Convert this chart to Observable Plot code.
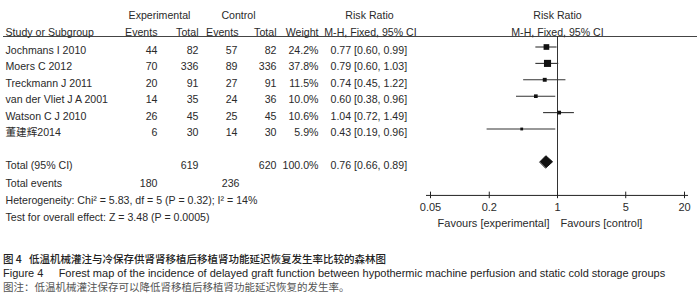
<!DOCTYPE html>
<html>
<head>
<meta charset="utf-8">
<script src="https://cdn.jsdelivr.net/npm/d3@7"></script>
<script src="https://cdn.jsdelivr.net/npm/@observablehq/plot@0.6"></script>
<style>
  html, body { margin: 0; padding: 0; background: #fff; }
  body { width: 700px; height: 298px; overflow: hidden; font-family: "Liberation Sans", Arial, "Noto Sans CJK SC", sans-serif; }
  #chart svg { display: block; }
  .cap { padding: 16px 0 0 3px; font-size: 10.5px; line-height: 14px; color: #333; }
  .cap .l1 { font-family: "Noto Sans CJK SC", sans-serif; color: #222; font-weight: 500; }
  .cap .l2 { color: #222; font-size: 11px; }
  .cap .l3 { font-family: "Noto Sans CJK SC", sans-serif; color: #555; }
</style>
</head>
<body>
<div id="chart"></div>
<div class="cap">
  <div class="l1">图 4&nbsp;&nbsp;&nbsp;低温机械灌注与冷保存供肾肾移植后移植肾功能延迟恢复发生率比较的森林图</div>
  <div class="l2">Figure 4&nbsp;&nbsp;&nbsp;&nbsp;&nbsp;Forest map of the incidence of delayed graft function between hypothermic machine perfusion and static cold storage groups</div>
  <div class="l3">图注：低温机械灌注保存可以降低肾移植后移植肾功能延迟恢复的发生率。</div>
</div>
<script>
// ---- data ----
const studies   = ["Jochmans I 2010", "Moers C 2012", "Treckmann J 2011", "van der Vliet J A 2001", "Watson C J 2010", "董建辉2014"];
const expEvents = [44, 70, 20, 14, 26, 6];
const expTotal  = [82, 336, 91, 35, 45, 30];
const ctlEvents = [57, 89, 27, 24, 25, 14];
const ctlTotal  = [82, 336, 91, 36, 45, 30];
const weights   = [24.2, 37.8, 11.5, 10.0, 10.6, 5.9];
const rr        = [0.77, 0.79, 0.74, 0.60, 1.04, 0.43];
const rrLow     = [0.60, 0.60, 0.45, 0.38, 0.72, 0.19];
const rrHigh    = [0.99, 1.03, 1.22, 0.96, 1.49, 0.96];

const totalExp = 619, totalCtl = 620, totalWeight = 100.0;
const totalRR = 0.76, totalLow = 0.66, totalHigh = 0.89;
const totalEventsExp = 180, totalEventsCtl = 236;
const heterogeneity = "Heterogeneity: Chi\u00b2 = 5.83, df = 5 (P = 0.32); I\u00b2 = 14%";
const overallEffect = "Test for overall effect: Z = 3.48 (P = 0.0005)";
const axisTicks = [0.05, 0.2, 1, 5, 20];
const favourLeft = "Favours [experimental]";
const favourRight = "Favours [control]";

// ---- layout rows (row units) ----
const rows = studies.map((name, i) => ({
  name, row: i,
  ee: expEvents[i], et: expTotal[i], ce: ctlEvents[i], ct: ctlTotal[i],
  w: weights[i], rr: rr[i], lo: rrLow[i], hi: rrHigh[i]
}));
const totalRow = studies.length + 1;
const eventsRow = totalRow + 1.1;
const hetRow = totalRow + 2.15;
const testRow = totalRow + 3.2;
const axisRow = 9.05;
const head1 = -2.12, head2 = -1.12, headLine = -0.64;

const fmtRR = (e, l, h) => `${e.toFixed(2)} [${l.toFixed(2)}, ${h.toFixed(2)}]`;
const FS = 10.6, TC = "#2a2a2a", DY = 3.5;

const T = (data, opts) => Plot.text(data, {frameAnchor: "left", fontSize: FS, fill: TC, dy: DY, ...opts});

const diamond = [
  {x: totalLow, y: totalRow},
  {x: totalRR, y: totalRow - 0.37},
  {x: totalHigh, y: totalRow},
  {x: totalRR, y: totalRow + 0.37}
];

const totals = [{row: totalRow}];

const plot = Plot.plot({
  width: 700,
  height: 236,
  marginLeft: 0,
  marginRight: 3,
  marginTop: 0,
  marginBottom: 41,
  style: {fontFamily: '"Liberation Sans", Arial, "Noto Sans CJK SC", sans-serif', background: "#fff"},
  x: {type: "log", domain: [0.05, 20], range: [430, 684], axis: null},
  y: {type: "linear", domain: [0, 10], range: [46.5, 210.5], axis: null},
  r: {type: "sqrt", domain: [0, d3.max(weights)], range: [0, 4]},
  marks: [
    // header line and reference line
    Plot.ruleY([headLine], {stroke: "#444", strokeWidth: 1, insetLeft: 3}),
    Plot.ruleX([1], {y1: headLine, y2: axisRow, stroke: "#333", strokeWidth: 1}),
    // axis
    Plot.ruleY([axisRow], {x1: 0.05, x2: 20, insetLeft: -4, insetRight: -4, stroke: "#222"}),
    Plot.ruleX(axisTicks, {x: d => d, y1: axisRow - 0.2, y2: axisRow + 0.2, stroke: "#222"}),
    Plot.text(axisTicks, {x: d => d, y: axisRow, dy: 12.5, text: d => String(d), fontSize: 11, fill: TC}),
    Plot.text([favourLeft], {x: 1, y: axisRow, dy: 28.5, dx: -8, textAnchor: "end", fontSize: 11, fill: TC}),
    Plot.text([favourRight], {x: 1, y: axisRow, dy: 28.5, dx: 3, textAnchor: "start", fontSize: 11, fill: TC}),
    // CIs and squares
    Plot.ruleY(rows, {y: "row", x1: "lo", x2: "hi", stroke: "#333", strokeWidth: 1.1}),
    Plot.dot(rows, {x: "rr", y: "row", r: "w", symbol: "square", fill: "#111", stroke: null}),
    // diamond
    Plot.line(diamond, {x: "x", y: "y", curve: "linear-closed", fill: "#111", stroke: "#111", strokeWidth: 1}),
    // headers
    T(["Experimental"], {y: head1, dx: 159, textAnchor: "middle"}),
    T(["Control"], {y: head1, dx: 238, textAnchor: "middle"}),
    T(["Risk Ratio"], {y: head1, dx: 369, textAnchor: "middle"}),
    Plot.text(["Risk Ratio"], {x: 1, y: head1, dy: DY, textAnchor: "middle", fontSize: FS, fill: TC}),
    T(["Study or Subgroup"], {y: head2, dx: 5, textAnchor: "start"}),
    T(["Events"], {y: head2, dx: 157, textAnchor: "end"}),
    T(["Total"], {y: head2, dx: 198, textAnchor: "end"}),
    T(["Events"], {y: head2, dx: 238, textAnchor: "end"}),
    T(["Total"], {y: head2, dx: 276, textAnchor: "end"}),
    T(["Weight"], {y: head2, dx: 318, textAnchor: "end"}),
    T(["M-H, Fixed, 95% CI"], {y: head2, dx: 370, textAnchor: "middle"}),
    Plot.text(["M-H, Fixed, 95% CI"], {x: 1, y: head2, dy: DY, textAnchor: "middle", fontSize: FS, fill: TC}),
    // study rows
    T(rows, {y: "row", text: "name", dx: 5, textAnchor: "start"}),
    T(rows, {y: "row", text: "ee", dx: 157, textAnchor: "end"}),
    T(rows, {y: "row", text: "et", dx: 198, textAnchor: "end"}),
    T(rows, {y: "row", text: "ce", dx: 237, textAnchor: "end"}),
    T(rows, {y: "row", text: "ct", dx: 276, textAnchor: "end"}),
    T(rows, {y: "row", text: d => d.w.toFixed(1) + "%", dx: 318, textAnchor: "end"}),
    T(rows, {y: "row", text: d => fmtRR(d.rr, d.lo, d.hi), dx: 330, textAnchor: "start"}),
    // totals
    T(totals, {y: "row", text: () => "Total (95% CI)", dx: 5, textAnchor: "start"}),
    T(totals, {y: "row", text: () => String(totalExp), dx: 198, textAnchor: "end"}),
    T(totals, {y: "row", text: () => String(totalCtl), dx: 276, textAnchor: "end"}),
    T(totals, {y: "row", text: () => totalWeight.toFixed(1) + "%", dx: 318, textAnchor: "end"}),
    T(totals, {y: "row", text: () => fmtRR(totalRR, totalLow, totalHigh), dx: 330, textAnchor: "start"}),
    T(["Total events"], {y: eventsRow, dx: 5, textAnchor: "start"}),
    T([String(totalEventsExp)], {y: eventsRow, dx: 157, textAnchor: "end"}),
    T([String(totalEventsCtl)], {y: eventsRow, dx: 239, textAnchor: "end"}),
    T([heterogeneity], {y: hetRow, dx: 5, textAnchor: "start"}),
    T([overallEffect], {y: testRow, dx: 5, textAnchor: "start"})
  ]
});
document.getElementById("chart").append(plot);
</script>
</body>
</html>
